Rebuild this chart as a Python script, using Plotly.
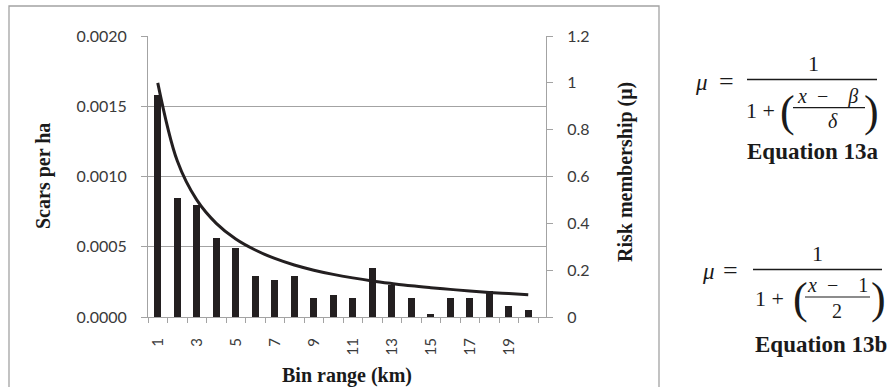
import plotly.graph_objects as go

# ---- data ----
bins = list(range(1, 21))
scars_per_ha = [0.00158, 0.00085, 0.00080, 0.00056, 0.00049, 0.00029, 0.00026, 0.00029,
                0.000135, 0.00016, 0.000135, 0.00035, 0.00023, 0.000138, 0.000024,
                0.000138, 0.000138, 0.000185, 0.000078, 0.00005]
risk_membership = [1.0, 0.667, 0.5, 0.4, 0.333, 0.286, 0.25, 0.222, 0.2, 0.182,
                   0.167, 0.154, 0.143, 0.133, 0.125, 0.118, 0.111, 0.105, 0.1, 0.095]
left_ticks = [0, 0.0005, 0.0010, 0.0015, 0.0020]
right_ticks = [0, 0.2, 0.4, 0.6, 0.8, 1.0, 1.2]
label_bins = [1, 3, 5, 7, 9, 11, 13, 15, 17, 19]

W, H = 894, 387
L, R, T, B = 148, 546, 36, 317   # plot area in pixels
PW, PH = R - L, B - T

def px(x):
    return (x - L) / PW

def py(y):
    return (B - y) / PH

GRAY = "#a3a3a3"
INK = "#231f20"
TXT = "#3a3a3a"

fig = go.Figure()
fig.add_trace(go.Bar(x=bins, y=scars_per_ha, width=0.375, marker=dict(color=INK, line=dict(width=0)),
                     yaxis="y", showlegend=False))
fig.add_trace(go.Scatter(x=bins, y=risk_membership, mode="lines", yaxis="y2",
                         line=dict(color=INK, width=3, shape="spline", smoothing=1.0), showlegend=False))

fig.update_layout(
    width=W, height=H, template="none",
    margin=dict(l=L, r=W - R, t=T, b=H - B, pad=0),
    paper_bgcolor="white", plot_bgcolor="white",
    bargap=0,
    xaxis=dict(range=[0.5, 0.5 + PW / 19.5], tickmode="array", tickvals=label_bins,
               ticktext=[str(v) for v in label_bins], tickangle=-90, ticks="",
               tickfont=dict(family="Lato", size=15, color=TXT), ticklabelstandoff=14,
               showline=True, linecolor=GRAY, linewidth=1, showgrid=False, zeroline=False,
               automargin=False,
               minor=dict(tickmode="linear", tick0=0.5, dtick=1, ticks="outside", ticklen=5,
                          tickcolor=GRAY, tickwidth=1, showgrid=False)),
    yaxis=dict(range=[0, 0.002], tickmode="array", tickvals=left_ticks,
               ticktext=["%.4f" % v for v in left_ticks], ticks="outside", ticklen=6,
               tickcolor=GRAY, tickwidth=1, showline=True, linecolor=GRAY, linewidth=1,
               showgrid=True, gridcolor=GRAY, gridwidth=1, zeroline=False,
               tickfont=dict(family="Lato", size=16, color=TXT), ticklabelstandoff=11,
               automargin=False),
    yaxis2=dict(range=[0, 1.2], overlaying="y", side="right", tickmode="array",
                tickvals=right_ticks, ticktext=["0", "0.2", "0.4", "0.6", "0.8", "1", "1.2"],
                ticks="outside", ticklen=6, tickcolor=GRAY, tickwidth=1,
                showline=True, linecolor=GRAY, linewidth=1, showgrid=False, zeroline=False,
                tickfont=dict(family="Lato", size=16, color=TXT), ticklabelstandoff=11,
                automargin=False),
)

ann = []

def text(x, y, s, size, bold=False, italic=False, angle=0, family="Liberation Serif", color="#1a1a1a"):
    if italic:
        s = "<i>" + s + "</i>"
    if bold:
        s = "<b>" + s + "</b>"
    ann.append(dict(x=px(x), y=py(y), xref="paper", yref="paper", text=s, showarrow=False,
                    xanchor="center", yanchor="middle", textangle=angle,
                    font=dict(family=family, size=size, color=color)))

# axis titles
text(43, 176, "Scars per ha", 20, bold=True, angle=-90)
text(625, 172, "Risk membership (μ)", 20, bold=True, angle=-90)
text(347, 375, "Bin range (km)", 20, bold=True)

shapes = []

def hline(x0, x1, y, w=1.5):
    shapes.append(dict(type="line", xref="paper", yref="paper", x0=px(x0), x1=px(x1),
                       y0=py(y), y1=py(y), line=dict(color="#1a1a1a", width=w)))

MF = "Liberation Serif"
SP = "\u2002"
# Equation 13a
text(701, 82, "μ", 23, italic=True, family=MF)
text(726, 81, "=", 26, family=MF)
hline(747, 877, 79.5)
text(813, 63, "1", 22, family=MF)
text(760, 110, "1 +", 22, family=MF)
text(787, 111, "(", 44, family=MF)
text(827, 96, "<i>x</i>" + SP + "−" + SP + SP + "<i>β</i>", 20, family=MF)
hline(793, 865, 107.7, 1.2)
text(833, 121, "δ", 20, italic=True, family=MF)
text(871, 111, ")", 44, family=MF)
text(813, 151, "Equation 13a", 23, bold=True)

# Equation 13b
text(708, 271, "μ", 23, italic=True, family=MF)
text(730, 270, "=", 26, family=MF)
hline(753, 882, 269.5)
text(817, 253, "1", 22, family=MF)
text(769, 298, "1 +", 22, family=MF)
text(800, 298, "(", 44, family=MF)
text(837, 285, "<i>x</i>" + SP + "−" + SP + SP + "1", 20, family=MF)
hline(805, 870, 297, 1.2)
text(837, 311, "2", 20, family=MF)
text(878, 298, ")", 44, family=MF)
text(821, 344, "Equation 13b", 23, bold=True)

# chart-area border (runs off the bottom of the picture)
shapes.append(dict(type="rect", xref="paper", yref="paper", x0=px(9), x1=px(659),
                   y0=py(400), y1=py(6), line=dict(color=GRAY, width=1.3), layer="below"))

fig.update_layout(annotations=ann, shapes=shapes)
fig.write_html("out.html")
